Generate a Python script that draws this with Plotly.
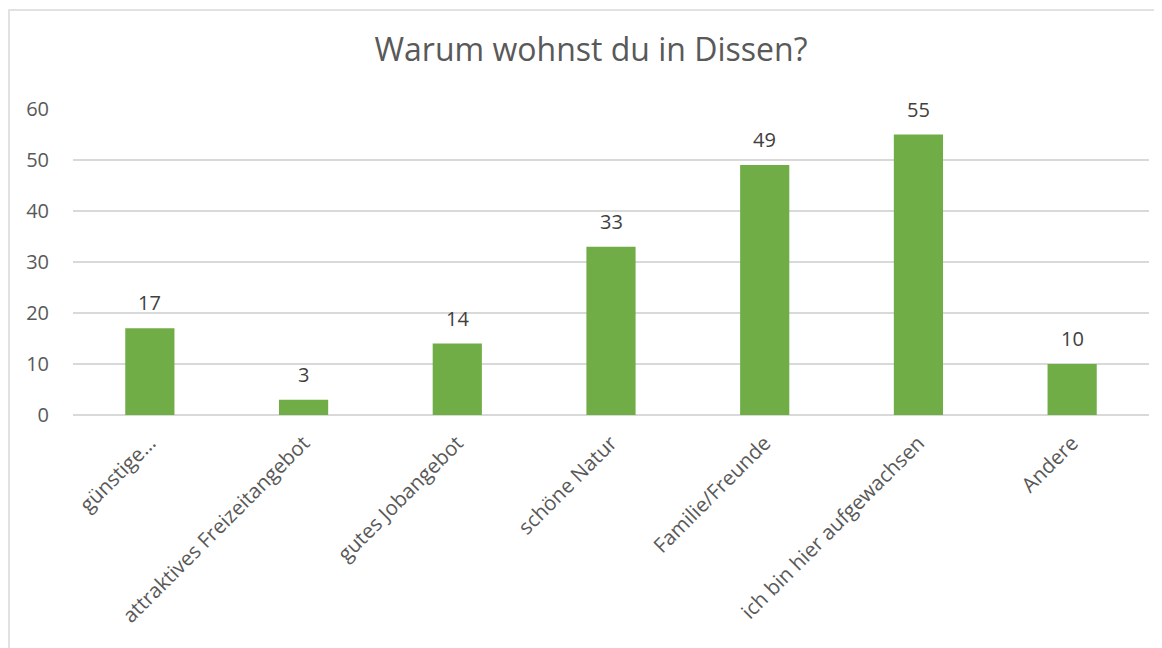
import plotly.graph_objects as go

categories = ["günstige…", "attraktives Freizeitangebot", "gutes Jobangebot", "schöne Natur",
              "Familie/Freunde", "ich bin hier aufgewachsen", "Andere"]
values = [17, 3, 14, 33, 49, 55, 10]
y_ticks = [0, 10, 20, 30, 40, 50, 60]

FONT = "Open Sans"

fig = go.Figure(go.Bar(
    x=categories, y=values,
    marker=dict(color="#70AD47", line=dict(width=0)),
))

for c, v in zip(categories, values):
    fig.add_annotation(x=c, y=v, text=str(v), showarrow=False, yanchor="bottom",
                       yshift=10, font=dict(size=20, color="#404040", family=FONT))

# page body has an 8px margin, so figure is offset by (8, 8) in the window
W, H = 1154, 640
L, R, T, B = 65, 13, 101, 233
pw = W - L - R
ph = H - T - B

fig.update_layout(
    width=W, height=H,
    margin=dict(l=L, r=R, t=T, b=B),
    paper_bgcolor="white", plot_bgcolor="white",
    bargap=0.68,
    showlegend=False,
    title=dict(text="Warum wohnst du in Dissen?", x=0.5 + 6 / W, xanchor="center",
               y=1 - 42/H, yanchor="middle",
               font=dict(size=32, color="#595959", family=FONT)),
    font=dict(family=FONT, color="#595959", size=20),
    xaxis=dict(tickangle=-45, tickfont=dict(size=20.5, color="#595959"),
               showgrid=False, ticks="", showline=False, ticklabelstandoff=11),
    yaxis=dict(range=[0, 60], tickvals=y_ticks, showgrid=True, gridcolor="#D9D9D9",
               gridwidth=1.5, zeroline=True, zerolinecolor="#D9D9D9", zerolinewidth=1.5,
               tickfont=dict(size=20, color="#595959"), ticks="", ticklabelstandoff=23,
               showline=False),
    shapes=[dict(type="rect", xref="paper", yref="paper",
                 x0=(1 - L) / pw, x1=1.2, y0=-1.0, y1=(ph + T - 2) / ph,
                 line=dict(color="#D9D9D9", width=1.5), fillcolor="rgba(0,0,0,0)", layer="below")],
)

fig.write_html("out.html")
